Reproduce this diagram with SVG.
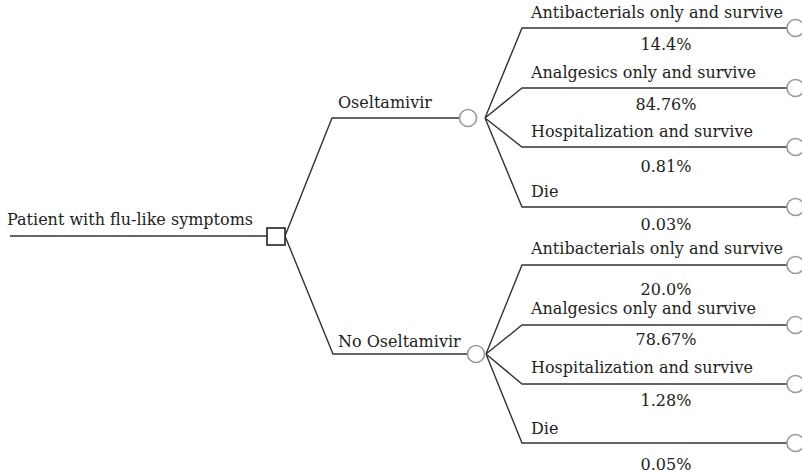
<svg xmlns="http://www.w3.org/2000/svg" width="802" height="475" viewBox="0 0 802 475">
<style>
.t{font-family:"DejaVu Serif","Liberation Serif",serif;font-size:16px;fill:#222}
.p{font-family:"DejaVu Serif","Liberation Serif",serif;font-size:16px;fill:#222;text-anchor:middle}
.ln{stroke:#333;stroke-width:1.4;fill:none}
.ch{stroke:#999;stroke-width:1.6;fill:#fff}
.dc{stroke:#222;stroke-width:1.6;fill:#fff}
</style>
<rect width="802" height="475" fill="#fff"/>
<g id="connectors">
<path class="ln" d="M10,236 H267"/>
<path class="ln" d="M285,236 L332,118 H459"/>
<path class="ln" d="M285,236 L333,354 H467"/>
<path class="ln" d="M485,118 L522,28 H787 M485,118 L522,88 H787 M485,118 L522,147 H787 M485,118 L522,207 H787"/>
<path class="ln" d="M486,354 L522,265 H787 M486,354 L522,325 H787 M486,354 L522,384 H787 M486,354 L522,443 H787"/>
</g>
<g id="root">
<rect class="dc" x="267" y="228" width="18" height="17"/>
<text class="t" x="7" y="225">Patient with flu-like symptoms</text>
</g>
<g id="oseltamivir">
<circle class="ch" cx="468" cy="118" r="8.5"/>
<text class="t" x="338" y="108">Oseltamivir</text>
</g>
<g id="no-oseltamivir">
<circle class="ch" cx="476" cy="354" r="8.5"/>
<text class="t" x="338" y="347">No Oseltamivir</text>
</g>
<g id="o1"><circle class="ch" cx="795.5" cy="28" r="8.5"/><text class="t" x="531" y="18">Antibacterials only and survive</text><text class="p" x="666" y="50">14.4%</text></g>
<g id="o2"><circle class="ch" cx="795.5" cy="88" r="8.5"/><text class="t" x="531" y="78">Analgesics only and survive</text><text class="p" x="666" y="110">84.76%</text></g>
<g id="o3"><circle class="ch" cx="795.5" cy="147" r="8.5"/><text class="t" x="531" y="137">Hospitalization and survive</text><text class="p" x="666" y="172">0.81%</text></g>
<g id="o4"><circle class="ch" cx="795.5" cy="207" r="8.5"/><text class="t" x="531" y="197">Die</text><text class="p" x="666" y="230">0.03%</text></g>
<g id="n1"><circle class="ch" cx="795.5" cy="265" r="8.5"/><text class="t" x="531" y="254">Antibacterials only and survive</text><text class="p" x="666" y="295">20.0%</text></g>
<g id="n2"><circle class="ch" cx="795.5" cy="325" r="8.5"/><text class="t" x="531" y="314">Analgesics only and survive</text><text class="p" x="666" y="345">78.67%</text></g>
<g id="n3"><circle class="ch" cx="795.5" cy="384" r="8.5"/><text class="t" x="531" y="373">Hospitalization and survive</text><text class="p" x="666" y="406">1.28%</text></g>
<g id="n4"><circle class="ch" cx="795.5" cy="443" r="8.5"/><text class="t" x="531" y="434">Die</text><text class="p" x="666" y="470">0.05%</text></g>
</svg>
